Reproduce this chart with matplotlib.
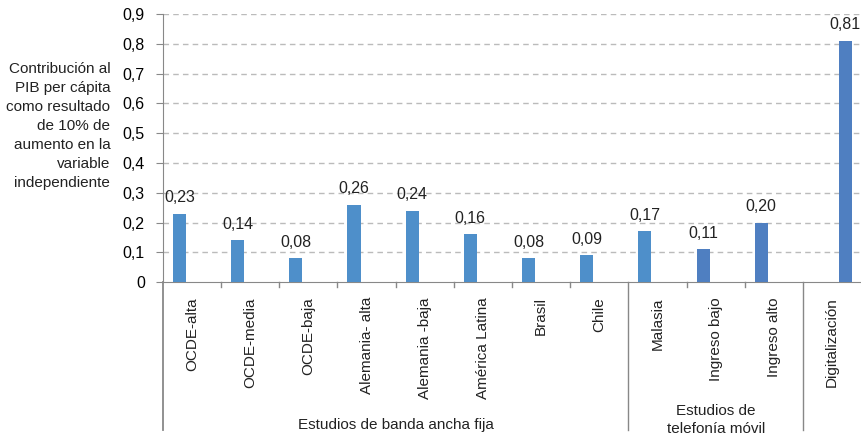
import numpy as np
import matplotlib.pyplot as plt

plt.rcParams['font.family'] = ['Liberation Sans', 'DejaVu Sans']

# data
categories = ['OCDE-alta', 'OCDE-media', 'OCDE-baja', 'Alemania- alta', 'Alemania -baja',
              'América Latina', 'Brasil', 'Chile', 'Malasia', 'Ingreso bajo', 'Ingreso alto',
              'Digitalización']
values = [0.23, 0.14, 0.08, 0.26, 0.24, 0.16, 0.08, 0.09, 0.17, 0.11, 0.20, 0.81]
value_labels = ['0,23', '0,14', '0,08', '0,26', '0,24', '0,16', '0,08', '0,09', '0,17',
                '0,11', '0,20', '0,81']
groups = ['Estudios de banda ancha fija', 'Estudios de\ntelefonía móvil', '']
group_sizes = [8, 3, 1]
yticks = [0, 0.1, 0.2, 0.3, 0.4, 0.5, 0.6, 0.7, 0.8, 0.9]
ytick_labels = ['0', '0,1', '0,2', '0,3', '0,4', '0,5', '0,6', '0,7', '0,8', '0,9']
ylabel = 'Contribución al\nPIB per cápita\ncomo resultado\nde 10% de\naumento en la\nvariable\nindependiente'

col_a = '#4E8FCA'
col_b = '#4F7FC1'
colors = [col_a] * 9 + [col_b] * 3

fig = plt.figure(figsize=(8.62, 4.36), dpi=100)
ax = fig.add_axes([0.189, 0.353, 0.81, 0.615])

n = len(categories)
x = np.arange(n)
# bars sit in the left slot, the last one in the right slot
offsets = np.array([-0.216] * (n - 1) + [0.23])
bw = 0.225
ax.bar(x + offsets, values, width=bw, color=colors, zorder=3)
for xi, v, lab in zip(x + offsets, values, value_labels):
    ax.text(xi, v + 0.028, lab, ha='center', va='bottom', fontsize=11.5, color='#222222')

ax.set_xlim(-0.5, n - 0.5)
ax.set_ylim(0, 0.9)
ax.set_yticks(yticks)
ax.set_yticklabels(ytick_labels, fontsize=11.5)
ax.tick_params(axis='y', length=5, color='#888888', pad=8)
ax.set_xticks([])
for y in yticks[1:]:
    ax.axhline(y, color='#BBBBBB', ls=(0, (4, 3)), lw=1, zorder=1)

for s in ['top', 'right']:
    ax.spines[s].set_visible(False)
ax.spines['left'].set_color('#888888')
ax.spines['bottom'].set_color('#888888')

# category boundaries below the axis
tr = ax.get_xaxis_transform()
bounds = np.cumsum(group_sizes) - 0.5
for b in np.arange(0.5, n - 0.5):
    if np.isclose(bounds, b).any():
        ax.plot([b, b], [0, -0.552], transform=tr, color='#888888', lw=1, clip_on=False)
    else:
        ax.plot([b, b], [0, -0.02], transform=tr, color='#888888', lw=1, clip_on=False)
ax.plot([-0.5, -0.5], [0, -0.552], transform=tr, color='#888888', lw=1.3, clip_on=False)

for xi, lab in zip(x, categories):
    ax.text(xi, -0.056, lab, rotation=90, ha='center', va='top', fontsize=11,
            transform=tr, color='#222222')

start = -0.5
tops = [-0.505, -0.455, 0]
for g, size, t in zip(groups, group_sizes, tops):
    mid = start + size / 2
    if g:
        ax.text(mid, t, g, ha='center', va='top', fontsize=11, transform=tr,
                linespacing=1.4, color='#222222')
    start += size

fig.text(0.128, 0.711, ylabel, ha='right', va='center', fontsize=11, linespacing=1.45,
         color='#222222')

fig.savefig('out.png', dpi=100)
